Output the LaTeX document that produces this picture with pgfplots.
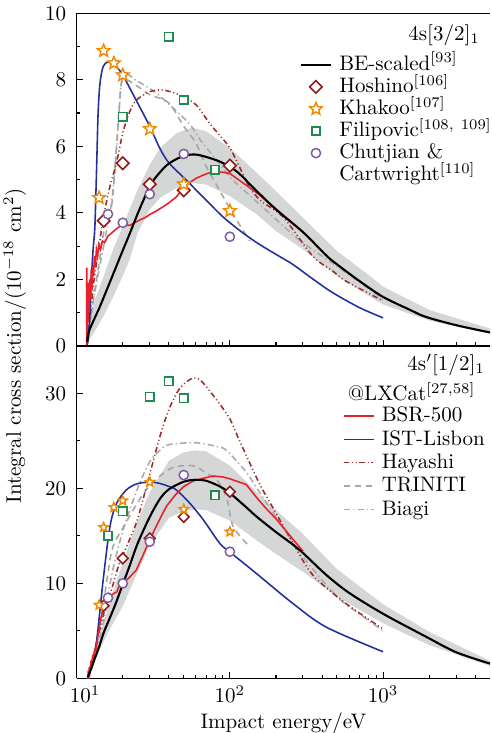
\documentclass[border=0pt]{standalone}
\usepackage{pgfplots}
\pgfplotsset{compat=1.18}
\definecolor{hoshino}{HTML}{8E1B1B}
\definecolor{khakoo}{HTML}{F08A00}
\definecolor{filip}{HTML}{1E8C4E}
\definecolor{chut}{HTML}{7B5BA6}
\definecolor{bsrred}{HTML}{E8202A}
\definecolor{istblue}{HTML}{22319A}
\definecolor{hayred}{HTML}{A02C2C}
\definecolor{trigray}{HTML}{A6A6A6}
\definecolor{biagray}{HTML}{AAAAAA}
\definecolor{bandgray}{HTML}{D5D7D7}

% open five-pointed star
\pgfdeclareplotmark{ostar}{%
  \pgfpathmoveto{\pgfpointpolar{90}{\pgfplotmarksize}}%
  \pgfpathlineto{\pgfpointpolar{126}{0.45\pgfplotmarksize}}%
  \pgfpathlineto{\pgfpointpolar{162}{\pgfplotmarksize}}%
  \pgfpathlineto{\pgfpointpolar{198}{0.45\pgfplotmarksize}}%
  \pgfpathlineto{\pgfpointpolar{234}{\pgfplotmarksize}}%
  \pgfpathlineto{\pgfpointpolar{270}{0.45\pgfplotmarksize}}%
  \pgfpathlineto{\pgfpointpolar{306}{\pgfplotmarksize}}%
  \pgfpathlineto{\pgfpointpolar{342}{0.45\pgfplotmarksize}}%
  \pgfpathlineto{\pgfpointpolar{18}{\pgfplotmarksize}}%
  \pgfpathlineto{\pgfpointpolar{54}{0.45\pgfplotmarksize}}%
  \pgfpathclose
  \pgfusepathqfillstroke}

\pgfplotsset{
  every axis/.append style={
    scale only axis, width=196.8pt, height=158.3pt,
    xmin=10, xmax=5000,
    xtick={10,100,1000},
    minor xtick={20,30,40,50,60,70,80,90,200,300,400,500,600,700,800,900,2000,3000,4000},
    axis x line*=box, axis y line*=left,
    tick align=inside, xtick pos=bottom, ytick pos=left,
    axis line style={-, line width=0.7pt},
    tick style={line width=0.5pt, black},
    major tick length=3pt, minor tick length=1.7pt,
    minor y tick num=1,
    yticklabel style={xshift=-1.5pt},
    legend cell align=left,
    legend style={draw=none, fill=none, inner sep=0pt, outer sep=0pt,
      nodes={inner ysep=0.5pt, inner xsep=3.5pt, text height=7.5pt, text depth=2pt},
      row sep=0pt},
  },
  legend image code/.code={\draw[mark repeat=2,mark phase=2,#1] plot coordinates {(0cm,0cm) (0.25cm,0cm) (0.5cm,0cm)};},
  mk/.style={only marks, legend image code/.code={\draw[##1] plot coordinates {(0.25cm,0cm)};}},
  beline/.style={black, line width=1pt},
  bsrline/.style={color=bsrred, line width=0.75pt},
  lisbon/.style={color=istblue, draw=istblue, line width=0.75pt},
  hayline/.style={color=hayred, line width=0.75pt, dash pattern=on 2.6pt off 1.3pt on 0.5pt off 1.3pt on 0.5pt off 1.3pt},
  triline/.style={color=trigray, line width=0.75pt, dash pattern=on 3pt off 2.2pt},
  bialine/.style={color=biagray, line width=0.75pt, dash pattern=on 3pt off 1.5pt on 0.6pt off 1.5pt},
  hos/.style={mk, mark=square*, mark size=2.1pt, mark options={rotate=45, draw=hoshino, fill=white, line width=0.75pt, solid}},
  kha/.style={mk, mark=ostar, mark size=3.1pt, mark options={draw=khakoo, fill=white, line width=0.7pt, solid}},
  fil/.style={mk, mark=square*, mark size=2pt, mark options={draw=filip, fill=white, line width=0.75pt, solid}},
  chu/.style={mk, mark=*, mark size=2.2pt, mark options={draw=chut, fill=white, line width=0.7pt, solid}},
}

\begin{document}
\begin{tikzpicture}

% ---------- top panel: 4s[3/2]_1 ----------
\begin{semilogxaxis}[name=top, at={(0,0)}, anchor=south west,
  ymin=0, ymax=10, ytick={0,2,4,6,8,10}, xticklabels={},
  legend style={at={(rel axis cs:0.540,0.878)}, anchor=north west}]
\addlegendimage{beline}\addlegendentry{BE-scaled$^{[93]}$}
\addlegendimage{hos}\addlegendentry{Hoshino$^{[106]}$}
\addlegendimage{kha}\addlegendentry{Khakoo$^{[107]}$}
\addlegendimage{fil}\addlegendentry{Filipovic$^{[108,\ 109]}$}
\addlegendimage{chu}\addlegendentry{Chutjian \&}
\addlegendimage{empty legend}\addlegendentry{Cartwright$^{[110]}$}

\addplot[fill=bandgray, draw=none, forget plot] coordinates {
 (11.62,0) (12,0.6) (13,1.3) (15,2.1) (17.3,2.9) (20,3.6) (24.5,4.6) (30,5.45) (35,5.95)
 (45,6.4) (57,6.56) (70,6.45) (100,5.95) (150,5.2) (200,4.65) (300,3.85) (500,2.85)
 (770,2.2) (1000,1.78) (2000,1.08) (5000,0.52)
 (5000,0.36) (2000,0.76) (1000,1.24) (500,2.1) (300,2.9) (200,3.45) (150,3.95) (100,4.5)
 (70,4.85) (57,4.89) (45,4.75) (35,4.45) (30,4.1) (25,3.4) (22.2,2.6) (20,2.1) (17,1.4)
 (15,0.9) (13,0.4) (12,0.15) (11.62,0)} -- cycle;

\addplot[bialine, smooth, forget plot] coordinates {
 (11.62,0) (13,1.5) (15,3.0) (17,4.4) (18.5,6.4) (20,8.1) (25,7.95) (33,7.6) (45,7.05)
 (55,6.65) (65,6.15) (75,5.8) (90,5.35) (105,4.98) (172,4.08) (284,3.18) (470,2.48)
 (770,1.78) (1000,1.4)};
\addplot[triline, smooth, forget plot] coordinates {
 (11.62,0) (12.5,1.0) (14,2.5) (15,3.4) (16,3.9) (17,4.3) (18,5.6) (19,7.2) (20,8.0)
 (25,7.8) (30,7.55) (40,7.3) (50,6.6) (60,6.1) (70,5.4) (90,4.5) (110,3.8) (135,3.15)};
\addplot[hayline, smooth, forget plot] coordinates {
 (11.62,0) (12,0.5) (12.5,1.3) (13,2.0) (14,3.0) (15,3.9) (16.5,4.8) (18.2,5.5) (20,6.4)
 (22,7.0) (24.6,7.39) (30,7.64) (36.7,7.69) (47,7.54) (60,7.25) (73.7,6.69) (85,6.35)
 (100,5.95) (115,5.4) (134,4.78) (160,4.35) (222,3.88) (347,2.7) (469,2.25) (570,1.95)
 (1000,1.35)};
\addplot[lisbon, smooth, forget plot] coordinates {
 (11.62,0) (11.9,0.2) (12.2,1.0) (12.5,2.1) (12.8,2.9) (13.15,3.6) (13.5,5.4) (13.8,7.0)
 (14.2,7.9) (14.9,8.4) (16,8.54) (17.3,8.5) (18.5,8.35) (20,8.14) (25,7.3) (30,6.6)
 (34.8,5.95) (40,5.5) (52,4.98) (70,4.38) (90,3.88) (115,3.48) (150,3.1) (200,2.75)
 (257,2.45) (350,2.0) (468,1.6) (700,1.15) (1000,0.84)};
\addplot[bsrline, forget plot] coordinates {
 (11.62,0) (11.64,2.35) (11.68,0.4) (11.75,1.6) (11.85,0.7) (11.95,1.9) (12.05,1.0)
 (12.15,2.0) (12.3,1.4) (12.45,2.3) (12.6,1.7) (12.75,2.4) (12.9,2.1) (13.05,2.7)
 (13.25,2.4) (13.45,2.9) (13.7,2.7) (13.95,3.05) (14.3,2.9) (14.7,3.15) (15.2,3.1)
 (16,3.3) (17,3.4) (18,3.5) (19,3.58) (20,3.65) (22.2,3.62) (25,3.75) (28.6,3.88)
 (30,3.95) (33,4.05) (36.6,4.18) (40,4.3) (44.8,4.48) (49.4,4.73) (55,4.92) (60.4,5.04)
 (70,5.17) (77.5,5.23) (90,5.22) (100,5.18) (115,4.98) (150,4.6) (200,4.12) (250,3.72)
 (300,3.42)};
\addplot[beline, smooth, forget plot] coordinates {
 (11.7,0.12) (12,0.42) (13,0.8) (14,1.12) (16,1.77) (18,2.35) (20,2.87) (22,3.33)
 (25,3.97) (28,4.5) (30,4.8) (33,5.08) (38.5,5.42) (45,5.62) (52,5.73) (60,5.75)
 (70,5.68) (85,5.55) (100,5.38) (115,5.18) (150,4.65) (200,4.1) (300,3.42)
 (425,2.72) (500,2.45) (700,1.95) (1000,1.47) (1500,1.08) (1900,0.87) (3000,0.62)
 (5000,0.40)};

\addplot[hos, forget plot] coordinates {(15,3.76) (20,5.49) (30,4.86) (50,4.68) (100,5.42)};
\addplot[kha, forget plot] coordinates {(14,4.45) (15,8.87) (17.5,8.50) (20,8.14) (30,6.52) (50,4.86) (100,4.06)};
\addplot[fil, forget plot] coordinates {(20,6.89) (40,9.30) (50,7.39) (80,5.29)};
\addplot[chu, forget plot] coordinates {(16,3.96) (20,3.70) (30,4.56) (50,5.77) (100,3.28)};

\node[anchor=east, inner sep=0pt] at (rel axis cs:0.976,0.935) {4s$[3/2]_1$};
\end{semilogxaxis}

% ---------- bottom panel: 4s'[1/2]_1 ----------
\begin{semilogxaxis}[name=bot, at={(0,0)}, anchor=north west,
  ymin=0, ymax=35, ytick={0,10,20,30},
  xticklabels={\hspace{8pt}$10^1$, $10^2$, $10^3$},
  legend style={at={(rel axis cs:0.644,0.822)}, anchor=north west, row sep=0.6pt}]
\addlegendimage{bsrline}\addlegendentry{BSR-500}
\addlegendimage{istblue, line width=0.75pt}\addlegendentry{IST-Lisbon}
\addlegendimage{hayline}\addlegendentry{Hayashi}
\addlegendimage{triline}\addlegendentry{TRINITI}
\addlegendimage{bialine}\addlegendentry{Biagi}

\addplot[fill=bandgray, draw=none, forget plot] coordinates {
 (11.83,0) (12.5,1.6) (13,2.5) (14,4.2) (15,6.0) (16.5,8.0) (18,10.0) (20,12.2) (25,16.6)
 (30,19.6) (40,22.9) (50,23.8) (60,24.0) (70,23.9) (100,22.4) (150,19.6) (200,17.7)
 (300,15.2) (500,11.5) (1000,7.8) (2000,4.9) (5000,1.85)
 (5000,1.3) (2000,3.5) (1000,5.8) (500,8.6) (300,11.2) (200,13.1) (150,14.5) (100,16.6)
 (70,17.7) (60,17.8) (50,17.6) (40,16.9) (30,14.0) (25,11.2) (20,7.6) (18,6.3) (16,4.8)
 (14,2.9) (13,1.8) (12,0.4) (11.83,0)} -- cycle;

\addplot[bialine, smooth, forget plot] coordinates {
 (11.83,0) (13,2) (15,6) (17,11) (20,15.5) (25,20) (30,22.8) (35,24.0) (40,24.6)
 (60,24.8) (82,24.4) (95,24.0) (128,21.7) (150,20.0) (200,17.0) (300,12.8) (500,8.6)
 (700,6.8) (1000,5.0)};
\addplot[triline, smooth, forget plot] coordinates {
 (11.83,0) (13,2.5) (14,5) (15,8) (17,13.5) (20,15.8) (25,18.5) (30,20.3) (40,22.0)
 (50,22.4) (60,22.3) (70,21.6) (82,20.9) (95,19.1) (105,16.0) (134,13.9)};
\addplot[hayline, smooth, forget plot] coordinates {
 (11.83,0) (13,2.5) (15,6.8) (17,9.5) (19,12.1) (22,14.5) (25,16.8) (30,21.5) (35,25.5)
 (40,28.3) (47,30.5) (57,31.6) (65,31.3) (82,29.3) (100,27.3) (115,25.1) (156,20.5)
 (200,17.4) (257,14.3) (347,10.9) (570,7.9) (1000,5.2)};
\addplot[lisbon, smooth, forget plot] coordinates {
 (11.83,0) (12.5,1.5) (13.5,4.0) (14.9,10.4) (16.5,16.0) (18.2,18.4) (21,19.8) (24,20.4)
 (27,20.6) (33,20.6) (40,20.2) (45,19.8) (55,18.4) (67,16.7) (86,14.2) (100,13.3)
 (150,11.0) (257,7.9) (425,5.4) (1000,2.8)};
\addplot[bsrline, forget plot] coordinates {
 (11.83,0) (11.9,0.8) (12,0.3) (12.1,1.2) (12.2,0.7) (12.35,1.6) (12.5,1.4) (12.7,2.3)
 (12.9,2.1) (13.1,3.0) (13.3,2.9) (13.6,3.9) (13.9,4.9) (14.2,5.9) (14.6,6.8) (15,7.5)
 (16,8.4) (17.3,8.9) (18.3,9.1) (18.8,9.6) (20,10.0) (22,10.6) (24.5,11.4) (27,12.9)
 (30,14.6) (34,16.4) (38.5,18.1) (44,19.3) (50,20.2) (58,20.8) (66.7,21.05) (77.5,21.3)
 (90,21.2) (100,21.0) (128,20.4) (150,19.0) (172,17.9) (200,16.8) (250,14.9) (300,13.4)};
\addplot[beline, smooth, forget plot] coordinates {
 (11.83,0.1) (12,0.4) (12.5,1.1) (13,1.9) (14,3.3) (15,4.8) (16.5,6.4) (18,7.9) (20,9.9)
 (22,11.7) (25,14.2) (30,17.0) (35,18.9) (40,19.9) (50,20.7) (60,20.9) (70,20.8)
 (86,20.2) (100,19.5) (128,18.0) (150,17.0) (200,15.4) (257,14.1) (300,13.2) (425,10.9)
 (600,9.0) (1000,6.8) (1900,4.4) (3000,2.75) (5000,1.55)};

\addplot[hos, mark size=1.8pt, forget plot] coordinates {(15,7.64) (20,12.63) (30,14.74) (50,17.0) (100,19.64)};
\addplot[kha, mark size=2.3pt, forget plot] coordinates {(14,7.72) (15,15.9) (17.5,18.0) (20,18.7) (30,20.65) (50,17.8) (100,15.43)};
\addplot[fil, forget plot] coordinates {(16,15.0) (20,17.6) (30,29.64) (40,31.26) (50,29.47) (80,19.29)};
\addplot[chu, forget plot] coordinates {(16,8.48) (20,10.0) (30,14.38) (50,21.4) (100,13.33)};

\node[anchor=east, inner sep=0pt] at (rel axis cs:0.988,0.942) {4s$'[1/2]_1$};
\node[inner sep=0pt] at (rel axis cs:0.81,0.862) {@LXCat$^{[27,58]}$};
\end{semilogxaxis}

\node[rotate=90] at (-29.4pt,0) {Integral cross section/$(10^{-18}\ \mathrm{cm}^2)$};
\node at (98.4pt,-179.6pt) {Impact energy/eV};

\pgfresetboundingbox
\path[use as bounding box] (-36.5pt,-184.3pt) rectangle (197.3pt,164.6pt);
\end{tikzpicture}
\end{document}
